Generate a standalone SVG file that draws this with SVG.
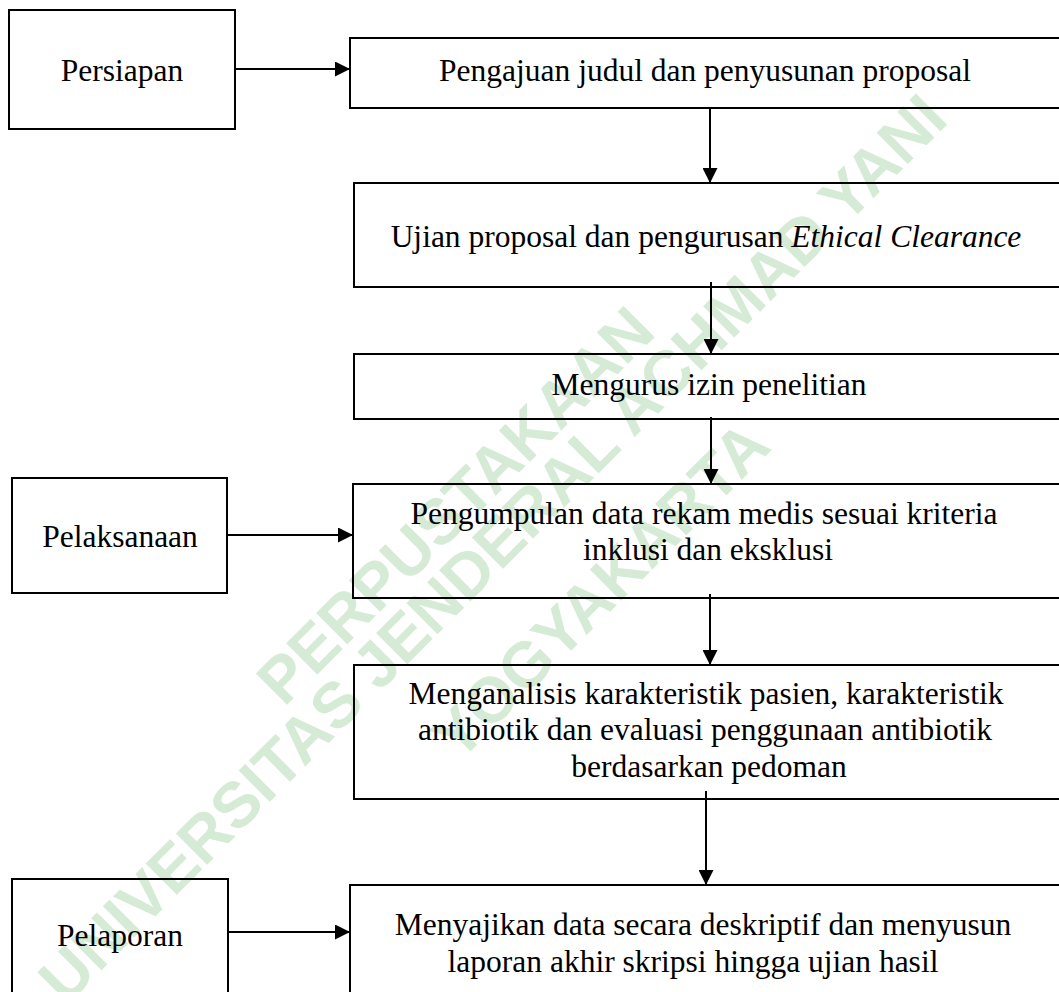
<svg xmlns="http://www.w3.org/2000/svg" width="1059" height="992" viewBox="0 0 1059 992">
<style>
.box{fill:none;stroke:#000;stroke-width:2}
.t{font-family:"Liberation Serif","Times New Roman",serif;font-size:31.5px;fill:#000;text-anchor:middle}
.wm{font-family:"Liberation Sans",Arial,sans-serif;font-weight:bold;font-size:64px;fill:#d5ebd5;text-anchor:middle}
.c{stroke:#000;stroke-width:2;fill:none;marker-end:url(#ah)}
</style>
<defs>
<marker id="ah" markerWidth="15" markerHeight="15" refX="15" refY="7.5" orient="auto" markerUnits="userSpaceOnUse">
<path d="M0,0 L15,7.5 L0,15 z" fill="#000"/>
</marker>
</defs>
<rect width="1059" height="992" fill="#fff"/>
<g id="watermark">
<text class="wm" transform="translate(455,505) rotate(-45)" dy="0.35em">PERPUSTAKAAN</text>
<text class="wm" transform="translate(492,548) rotate(-45)" dy="0.35em">UNIVERSITAS JENDERAL ACHMAD YANI</text>
<text class="wm" transform="translate(600,590) rotate(-45)" dy="0.35em" font-size="60">YOGYAKARTA</text>
</g>
<g id="persiapan">
<rect class="box" x="9" y="10" width="226" height="119"/>
<text class="t" x="122" y="81">Persiapan</text>
</g>
<g id="pengajuan">
<rect class="box" x="350" y="38" width="712" height="70"/>
<text class="t" x="705" y="81">Pengajuan judul dan penyusunan proposal</text>
</g>
<g id="ujian">
<rect class="box" x="354" y="183" width="708" height="104"/>
<text class="t" x="706" y="247">Ujian proposal dan pengurusan <tspan font-style="italic">Ethical Clearance</tspan></text>
</g>
<g id="izin">
<rect class="box" x="354" y="354" width="708" height="65"/>
<text class="t" x="709" y="395">Mengurus izin penelitian</text>
</g>
<g id="pelaksanaan">
<rect class="box" x="12" y="478" width="215" height="115"/>
<text class="t" x="120" y="547">Pelaksanaan</text>
</g>
<g id="pengumpulan">
<rect class="box" x="353" y="484" width="709" height="114"/>
<text class="t" x="704" y="524">Pengumpulan data rekam medis sesuai kriteria</text>
<text class="t" x="708" y="560">inklusi dan eksklusi</text>
</g>
<g id="analisis">
<rect class="box" x="354" y="665" width="708" height="134"/>
<text class="t" x="706" y="704">Menganalisis karakteristik pasien, karakteristik</text>
<text class="t" x="705" y="740">antibiotik dan evaluasi penggunaan antibiotik</text>
<text class="t" x="709" y="777">berdasarkan pedoman</text>
</g>
<g id="pelaporan">
<rect class="box" x="12" y="879" width="216" height="130"/>
<text class="t" x="120" y="946">Pelaporan</text>
</g>
<g id="menyajikan">
<rect class="box" x="350" y="885" width="712" height="130"/>
<text class="t" x="703" y="935">Menyajikan data secara deskriptif dan menyusun</text>
<text class="t" x="693" y="972">laporan akhir skripsi hingga ujian hasil</text>
</g>
<g id="connectors">
<line class="c" x1="235" y1="69" x2="350" y2="69"/>
<line class="c" x1="710" y1="108" x2="710" y2="183"/>
<line class="c" x1="711" y1="282" x2="711" y2="354"/>
<line class="c" x1="711" y1="417" x2="711" y2="484"/>
<line class="c" x1="227" y1="535" x2="353" y2="535"/>
<line class="c" x1="710" y1="594" x2="710" y2="665"/>
<line class="c" x1="706" y1="791" x2="706" y2="885"/>
<line class="c" x1="228" y1="932" x2="350" y2="932"/>
</g>
</svg>
